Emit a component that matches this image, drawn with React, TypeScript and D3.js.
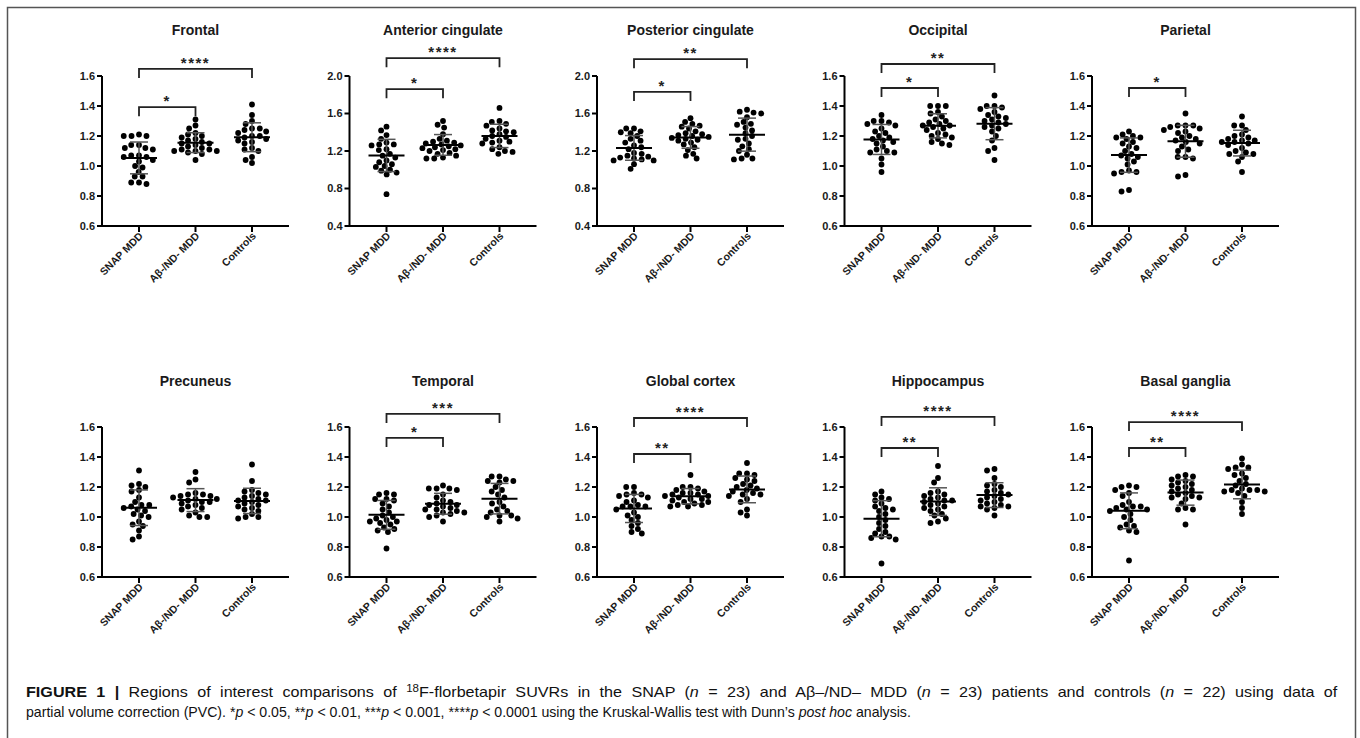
import { useLayoutEffect, useRef, useState } from 'react';
import * as d3 from 'd3';

const groups = ['SNAP MDD', 'Aβ-/ND- MDD', 'Controls'];
const regions = ['Frontal', 'Anterior cingulate', 'Posterior cingulate', 'Occipital', 'Parietal',
  'Precuneus', 'Temporal', 'Global cortex', 'Hippocampus', 'Basal ganglia'];
const yDomains = [[0.6, 1.6], [0.4, 2.0], [0.4, 2.0], [0.6, 1.6], [0.6, 1.6],
  [0.6, 1.6], [0.6, 1.6], [0.6, 1.6], [0.6, 1.6], [0.6, 1.6]];
const yTickSteps = [0.2, 0.4, 0.4, 0.2, 0.2, 0.2, 0.2, 0.2, 0.2, 0.2];

// SUVR values per group: SNAP MDD, Aβ-/ND- MDD, Controls
const frontal = [
  [1.21, 1.20, 1.20, 1.20, 1.14, 1.14, 1.12, 1.12, 1.11, 1.07, 1.07, 1.06, 1.06, 1.04, 1.03, 1.00, 0.99, 0.96, 0.93, 0.93, 0.89, 0.89, 0.88],
  [1.31, 1.27, 1.25, 1.22, 1.21, 1.20, 1.19, 1.18, 1.17, 1.16, 1.15, 1.15, 1.14, 1.13, 1.12, 1.11, 1.11, 1.10, 1.10, 1.10, 1.09, 1.08, 1.04],
  [1.41, 1.34, 1.30, 1.28, 1.25, 1.25, 1.24, 1.23, 1.22, 1.20, 1.20, 1.19, 1.18, 1.17, 1.16, 1.15, 1.12, 1.11, 1.10, 1.06, 1.04, 1.02],
];
const anteriorCingulate = [
  [1.46, 1.42, 1.37, 1.33, 1.29, 1.27, 1.27, 1.26, 1.22, 1.21, 1.17, 1.15, 1.13, 1.10, 1.08, 1.06, 1.04, 1.03, 1.00, 0.99, 0.97, 0.95, 0.74],
  [1.52, 1.48, 1.45, 1.38, 1.33, 1.31, 1.30, 1.29, 1.28, 1.27, 1.26, 1.25, 1.24, 1.23, 1.22, 1.21, 1.20, 1.18, 1.17, 1.15, 1.13, 1.12, 1.12],
  [1.66, 1.52, 1.51, 1.49, 1.47, 1.44, 1.42, 1.41, 1.40, 1.38, 1.36, 1.35, 1.33, 1.31, 1.30, 1.29, 1.28, 1.24, 1.22, 1.20, 1.19, 1.17],
];
const posteriorCingulate = [
  [1.44, 1.44, 1.41, 1.40, 1.39, 1.36, 1.33, 1.31, 1.29, 1.26, 1.24, 1.22, 1.18, 1.17, 1.15, 1.14, 1.13, 1.12, 1.11, 1.10, 1.10, 1.06, 1.01],
  [1.55, 1.51, 1.49, 1.47, 1.46, 1.44, 1.41, 1.39, 1.38, 1.37, 1.36, 1.35, 1.34, 1.33, 1.32, 1.31, 1.29, 1.27, 1.24, 1.21, 1.17, 1.15, 1.12],
  [1.64, 1.62, 1.61, 1.60, 1.56, 1.51, 1.49, 1.48, 1.45, 1.42, 1.39, 1.36, 1.33, 1.32, 1.28, 1.25, 1.22, 1.20, 1.16, 1.12, 1.12, 1.11],
];
const occipital = [
  [1.34, 1.30, 1.30, 1.29, 1.28, 1.27, 1.25, 1.23, 1.22, 1.20, 1.19, 1.18, 1.17, 1.16, 1.15, 1.13, 1.11, 1.10, 1.09, 1.09, 1.05, 1.01, 0.96],
  [1.40, 1.40, 1.40, 1.36, 1.35, 1.33, 1.31, 1.30, 1.29, 1.28, 1.27, 1.27, 1.26, 1.25, 1.24, 1.22, 1.21, 1.20, 1.19, 1.18, 1.16, 1.15, 1.14],
  [1.47, 1.40, 1.40, 1.39, 1.38, 1.36, 1.34, 1.33, 1.32, 1.31, 1.30, 1.29, 1.28, 1.27, 1.26, 1.25, 1.23, 1.20, 1.17, 1.12, 1.10, 1.04],
];
const parietal = [
  [1.23, 1.21, 1.20, 1.19, 1.19, 1.18, 1.16, 1.15, 1.13, 1.12, 1.10, 1.08, 1.07, 1.06, 1.05, 1.03, 1.01, 0.97, 0.96, 0.96, 0.95, 0.84, 0.83],
  [1.35, 1.27, 1.27, 1.27, 1.26, 1.25, 1.24, 1.23, 1.22, 1.20, 1.19, 1.18, 1.17, 1.16, 1.15, 1.13, 1.11, 1.10, 1.06, 1.06, 1.05, 0.94, 0.93],
  [1.33, 1.27, 1.27, 1.24, 1.21, 1.20, 1.19, 1.18, 1.17, 1.17, 1.16, 1.16, 1.15, 1.14, 1.12, 1.10, 1.09, 1.08, 1.08, 1.06, 1.03, 0.96],
];
const precuneus = [
  [1.31, 1.22, 1.21, 1.20, 1.18, 1.17, 1.13, 1.10, 1.08, 1.08, 1.07, 1.06, 1.05, 1.04, 1.02, 1.01, 1.00, 0.97, 0.95, 0.94, 0.91, 0.87, 0.85],
  [1.30, 1.25, 1.23, 1.16, 1.15, 1.15, 1.14, 1.14, 1.13, 1.12, 1.12, 1.11, 1.10, 1.10, 1.09, 1.08, 1.07, 1.06, 1.05, 1.03, 1.01, 1.00, 1.00],
  [1.35, 1.24, 1.18, 1.17, 1.16, 1.15, 1.14, 1.13, 1.12, 1.11, 1.11, 1.10, 1.09, 1.08, 1.07, 1.06, 1.05, 1.04, 1.02, 1.00, 1.00, 0.99],
];
const temporal = [
  [1.16, 1.15, 1.15, 1.12, 1.12, 1.11, 1.09, 1.07, 1.05, 1.03, 1.01, 1.00, 0.99, 0.98, 0.97, 0.97, 0.96, 0.95, 0.93, 0.92, 0.91, 0.90, 0.79],
  [1.21, 1.19, 1.19, 1.19, 1.18, 1.15, 1.13, 1.11, 1.10, 1.09, 1.08, 1.08, 1.07, 1.06, 1.05, 1.05, 1.04, 1.03, 1.03, 1.02, 1.01, 1.00, 0.97],
  [1.27, 1.27, 1.25, 1.24, 1.24, 1.23, 1.20, 1.18, 1.17, 1.15, 1.13, 1.10, 1.09, 1.07, 1.05, 1.04, 1.03, 1.01, 1.01, 1.00, 0.99, 0.97],
];
const globalCortex = [
  [1.20, 1.20, 1.16, 1.15, 1.15, 1.14, 1.13, 1.11, 1.10, 1.08, 1.07, 1.07, 1.07, 1.05, 1.03, 1.01, 1.00, 0.98, 0.96, 0.94, 0.92, 0.90, 0.89],
  [1.28, 1.20, 1.20, 1.19, 1.18, 1.17, 1.16, 1.16, 1.15, 1.15, 1.14, 1.14, 1.13, 1.12, 1.12, 1.11, 1.10, 1.10, 1.09, 1.08, 1.08, 1.07, 1.07],
  [1.36, 1.29, 1.29, 1.28, 1.26, 1.25, 1.24, 1.22, 1.21, 1.20, 1.19, 1.18, 1.17, 1.16, 1.15, 1.15, 1.14, 1.12, 1.10, 1.05, 1.03, 1.01],
];
const hippocampus = [
  [1.17, 1.15, 1.13, 1.12, 1.11, 1.09, 1.07, 1.06, 1.05, 1.04, 1.02, 1.00, 0.98, 0.96, 0.94, 0.92, 0.90, 0.89, 0.87, 0.87, 0.86, 0.85, 0.69],
  [1.34, 1.26, 1.23, 1.17, 1.16, 1.15, 1.14, 1.13, 1.12, 1.11, 1.11, 1.10, 1.09, 1.08, 1.07, 1.06, 1.05, 1.04, 1.02, 1.01, 0.99, 0.97, 0.96],
  [1.32, 1.31, 1.26, 1.22, 1.21, 1.20, 1.18, 1.17, 1.16, 1.15, 1.14, 1.13, 1.12, 1.11, 1.10, 1.09, 1.08, 1.07, 1.07, 1.06, 1.05, 1.01],
];
const basalGanglia = [
  [1.21, 1.20, 1.20, 1.18, 1.16, 1.14, 1.10, 1.08, 1.07, 1.07, 1.06, 1.05, 1.05, 1.04, 1.02, 1.00, 0.98, 0.95, 0.94, 0.93, 0.91, 0.90, 0.71],
  [1.28, 1.27, 1.27, 1.25, 1.24, 1.23, 1.22, 1.21, 1.20, 1.19, 1.18, 1.17, 1.16, 1.15, 1.14, 1.13, 1.13, 1.12, 1.09, 1.06, 1.05, 1.05, 0.95],
  [1.39, 1.35, 1.33, 1.33, 1.32, 1.29, 1.28, 1.26, 1.24, 1.22, 1.21, 1.19, 1.18, 1.18, 1.18, 1.17, 1.17, 1.16, 1.14, 1.10, 1.06, 1.02],
];
const suvr = [frontal, anteriorCingulate, posteriorCingulate, occipital, parietal,
  precuneus, temporal, globalCortex, hippocampus, basalGanglia];

// significance brackets: region index, group from/to, height (SUVR units), label
const brackets = [
  { r: 0, a: 0, b: 1, at: 1.392, label: '*' }, { r: 0, a: 0, b: 2, at: 1.647, label: '****' },
  { r: 1, a: 0, b: 1, at: 1.86, label: '*' }, { r: 1, a: 0, b: 2, at: 2.19, label: '****' },
  { r: 2, a: 0, b: 1, at: 1.83, label: '*' }, { r: 2, a: 0, b: 2, at: 2.18, label: '**' },
  { r: 3, a: 0, b: 1, at: 1.52, label: '*' }, { r: 3, a: 0, b: 2, at: 1.68, label: '**' },
  { r: 4, a: 0, b: 1, at: 1.52, label: '*' },
  { r: 6, a: 0, b: 1, at: 1.527, label: '*' }, { r: 6, a: 0, b: 2, at: 1.687, label: '***' },
  { r: 7, a: 0, b: 1, at: 1.42, label: '**' }, { r: 7, a: 0, b: 2, at: 1.66, label: '****' },
  { r: 8, a: 0, b: 1, at: 1.46, label: '**' }, { r: 8, a: 0, b: 2, at: 1.667, label: '****' },
  { r: 9, a: 0, b: 1, at: 1.46, label: '**' }, { r: 9, a: 0, b: 2, at: 1.633, label: '****' },
];

const FONT = "'Liberation Sans', Arial, Helvetica, sans-serif";
const W = 1360, H = 738;
const plotW = 187, plotH = 150;
const dotR = 2.9;

// deterministic swarm: dots collide inside an ellipse (wide x, short y), like GraphPad rows
function swarm(vals: number[], y: (v: number) => number, sx: number, sy: number) {
  const pts = vals.map((v) => ({ v, py: y(v), dx: 0 }));
  const order = [...pts].sort((p, q) => p.py - q.py);
  const placed: typeof pts = [];
  for (const p of order) {
    const blocked: [number, number][] = [];
    for (const q of placed) {
      const dy = Math.abs(q.py - p.py);
      if (dy < sy) {
        const w = sx * Math.sqrt(1 - (dy / sy) ** 2);
        blocked.push([q.dx - w, q.dx + w]);
      }
    }
    const cands = [0, ...blocked.flatMap((b) => b)].sort((a, b) => Math.abs(a) - Math.abs(b) || a - b);
    for (const c of cands) {
      if (!blocked.some((b) => c > b[0] + 1e-6 && c < b[1] - 1e-6)) { p.dx = c; break; }
    }
    placed.push(p);
  }
  return pts;
}

function Panel({ i }: { i: number }) {
  const col = i % 5, row = Math.floor(i / 5);
  const ox = 102 + col * 247.5;
  const oy = row === 0 ? 76 : 427;
  const x = d3.scalePoint().domain(groups).range([0, plotW]).padding(0.655);
  const y = d3.scaleLinear().domain(yDomains[i]).range([plotH, 0]);
  const [lo, hi] = yDomains[i];
  const ticks = d3.range(lo, hi + 1e-6, yTickSteps[i]);
  const fmt = d3.format('.1f');
  return (
    <g transform={`translate(${ox},${oy})`} fontFamily={FONT}>
      <text x={x(groups[1])} y={-41} textAnchor="middle" fontSize={14} fontWeight="bold" fill="#1a1a1a">{regions[i]}</text>
      {suvr[i].map((vals, g) => {
        const cx = x(groups[g])!;
        const m = d3.mean(vals)!;
        const sd = d3.deviation(vals)!;
        const pts = swarm(vals, y, 7.8, 5.2);
        return (
          <g key={g}>
            {pts.map((p, k) => <circle key={k} cx={cx + p.dx} cy={p.py} r={dotR} fill="#000" />)}
            <g stroke="#555" strokeWidth={1.5}>
              <line x1={cx} x2={cx} y1={y(m - sd)} y2={y(m + sd)} />
              <line x1={cx - 9} x2={cx + 9} y1={y(m + sd)} y2={y(m + sd)} />
              <line x1={cx - 9} x2={cx + 9} y1={y(m - sd)} y2={y(m - sd)} />
            </g>
            <line x1={cx - 18} x2={cx + 18} y1={y(m)} y2={y(m)} stroke="#000" strokeWidth={2} />
          </g>
        );
      })}
      <line x1={0} x2={0} y1={0} y2={plotH} stroke="#000" strokeWidth={2} />
      <line x1={-1} x2={plotW} y1={plotH} y2={plotH} stroke="#000" strokeWidth={2} />
      {ticks.map((t) => (
        <g key={t} transform={`translate(0,${y(t)})`}>
          <line x1={-5} x2={0} stroke="#000" strokeWidth={2} />
          <text x={-7} dy="0.35em" textAnchor="end" fontSize={11} fontWeight="bold" fill="#1a1a1a">{fmt(t)}</text>
        </g>
      ))}
      {groups.map((g) => (
        <g key={g} transform={`translate(${x(g)},${plotH})`}>
          <line y1={0} y2={6} stroke="#000" strokeWidth={2} />
          <text transform="translate(2,8) rotate(-45)" dy="0.35em" textAnchor="end" fontSize={10.5} fontWeight="bold" fill="#1a1a1a">{g}</text>
        </g>
      ))}
      {brackets.filter((b) => b.r === i).map((b, k) => {
        const x1 = x(groups[b.a])!, x2 = x(groups[b.b])!, yy = y(b.at);
        return (
          <g key={k}>
            <path d={`M${x1},${yy + 9}V${yy}H${x2}V${yy + 9}`} fill="none" stroke="#222" strokeWidth={1.8} />
            <text x={(x1 + x2) / 2} y={yy - 1} textAnchor="middle" fontSize={15} fontWeight="bold" letterSpacing={1.5} fill="#222">{b.label}</text>
          </g>
        );
      })}
    </g>
  );
}

function Caption() {
  const l1 = useRef<SVGTextElement>(null);
  const l2 = useRef<SVGTextElement>(null);
  const [fit, setFit] = useState({ s1: 1, s2: 1, ws: 0 });
  useLayoutEffect(() => {
    if (!l1.current || !l2.current) return;
    const w1 = l1.current.getComputedTextLength();
    const w2 = l2.current.getComputedTextLength();
    const s2 = 886 / w2;
    const gap = 1312 - s2 * w1;
    const s1 = s2 + gap / 2 / w1;
    const spaces = (l1.current.textContent || '').split(' ').length - 1;
    setFit({ s1, s2, ws: Math.max(0, (1312 / s1 - w1) / spaces) });
  }, []);
  return (
    <g fontFamily={FONT} fontSize={14} fill="#111">
      <text ref={l1} x={0} y={0} wordSpacing={fit.ws} transform={`translate(26,697) scale(${fit.s1},1)`}>
        <tspan fontWeight="bold">{'FIGURE 1 | '}</tspan>
        {'Regions of interest comparisons of '}
        <tspan dy={-5} fontSize={10}>18</tspan>
        <tspan dy={5}>{'F-florbetapir SUVRs in the SNAP ('}</tspan>
        <tspan fontStyle="italic">n</tspan>
        {' = 23) and Aβ–/ND– MDD ('}
        <tspan fontStyle="italic">n</tspan>
        {' = 23) patients and controls ('}
        <tspan fontStyle="italic">n</tspan>
        {' = 22) using data of'}
      </text>
      <text ref={l2} x={0} y={0} transform={`translate(26,717) scale(${fit.s2},1)`}>
        {'partial volume correction (PVC). *'}
        <tspan fontStyle="italic">p</tspan>
        {' < 0.05, **'}
        <tspan fontStyle="italic">p</tspan>
        {' < 0.01, ***'}
        <tspan fontStyle="italic">p</tspan>
        {' < 0.001, ****'}
        <tspan fontStyle="italic">p</tspan>
        {' < 0.0001 using the Kruskal-Wallis test with Dunn’s '}
        <tspan fontStyle="italic">post hoc</tspan>
        {' analysis.'}
      </text>
    </g>
  );
}

export default function App() {
  return (
    <svg width={W} height={H} style={{ position: 'absolute', left: 0, top: 0, background: '#fff' }}>
      <rect x={0} y={0} width={W} height={H} fill="#fff" />
      <rect x={7.5} y={7.5} width={1348} height={745} fill="none" stroke="#555" strokeWidth={1.5} />
      {regions.map((_, i) => <Panel key={i} i={i} />)}
      <Caption />
    </svg>
  );
}
